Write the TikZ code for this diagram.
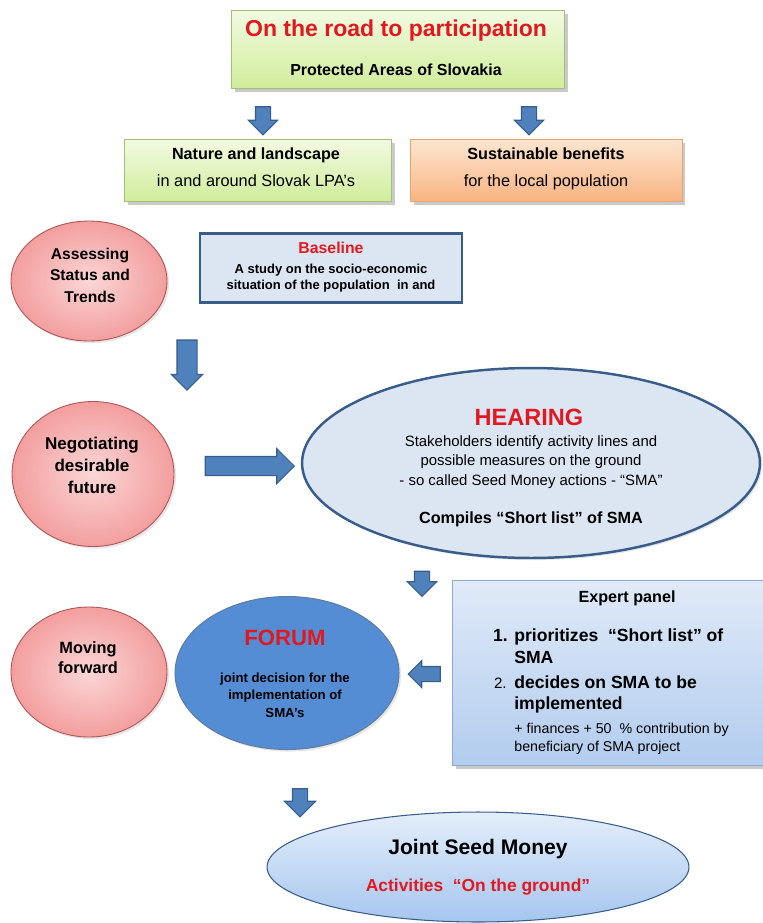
\documentclass[tikz,border=0pt]{standalone}
\usepackage{fontspec}
\setmainfont{Liberation Sans}
\usetikzlibrary{shapes.geometric,shapes.arrows,shadows}

\definecolor{redtxt}{RGB}{226,24,32}
\definecolor{arrowblue}{RGB}{79,129,189}
\definecolor{arrowline}{RGB}{56,93,138}
\definecolor{greentop}{RGB}{242,250,226}
\definecolor{greenbot}{RGB}{208,237,155}
\definecolor{greenline}{RGB}{165,190,125}
\definecolor{orangetop}{RGB}{252,230,208}
\definecolor{orangebot}{RGB}{248,180,130}
\definecolor{orangeline}{RGB}{228,165,115}
\definecolor{pinkin}{RGB}{251,214,214}
\definecolor{pinkout}{RGB}{243,158,158}
\definecolor{pinkline}{RGB}{175,85,85}
\definecolor{paleblue}{RGB}{220,230,242}
\definecolor{darkblue}{RGB}{56,93,138}
\definecolor{forumblue}{RGB}{84,141,212}
\definecolor{paneltop}{RGB}{224,234,248}
\definecolor{panelbot}{RGB}{178,204,238}
\definecolor{panelline}{RGB}{140,168,205}
\definecolor{seedtop}{RGB}{228,238,251}
\definecolor{seedbot}{RGB}{166,198,238}

\newcommand{\setfs}[2]{\fontsize{#1}{#2}\selectfont}

\tikzset{
  softshadow/.style={drop shadow={shadow xshift=2pt, shadow yshift=-2pt, opacity=0.35, fill=black!60}},
  faintshadow/.style={drop shadow={shadow xshift=1.2pt, shadow yshift=-1.2pt, opacity=0.2, fill=black!50}},
  greenbox/.style={rectangle, draw=greenline, top color=greentop, bottom color=greenbot, softshadow, inner sep=0pt},
  orangebox/.style={rectangle, draw=orangeline, top color=orangetop, bottom color=orangebot, softshadow, inner sep=0pt},
  pinkdisc/.style={ellipse, draw=pinkline, line width=0.5pt, inner color=pinkin, outer color=pinkout, faintshadow, inner sep=0pt},
  bigarrow/.style={single arrow, draw=arrowline, fill=arrowblue, line width=0.6pt, inner sep=0pt, outer sep=0pt, minimum width=0pt, text depth=0pt},
  txt/.style={inner sep=0pt, anchor=base},
  multi/.style={inner sep=0pt, align=center}
}

\begin{document}
\begin{tikzpicture}[x=0.02cm, y=-0.02cm]
\useasboundingbox (0,0) rectangle (762,923);

% title and the two aims
\node[greenbox, minimum width=6.66cm, minimum height=1.56cm] (title) at (398,49) {};
\node[txt, text=redtxt, font=\bfseries\setfs{13.1}{15}] (titleA) at (396,36) {On the road to participation};
\node[txt, font=\bfseries\setfs{9.1}{11}] (titleB) at (396,75) {Protected Areas of Slovakia};

\node[bigarrow, rotate=-90, text height=0.28cm, single arrow head extend=0.14cm, minimum height=0.56cm] (arrNat) at (263,117) {};
\node[bigarrow, rotate=-90, text height=0.28cm, single arrow head extend=0.14cm, minimum height=0.56cm] (arrSus) at (529,117) {};

\node[greenbox, minimum width=5.34cm, minimum height=1.24cm] (nature) at (258,170) {};
\node[txt, font=\bfseries\setfs{9.2}{11}] (natureA) at (256,159) {Nature and landscape};
\node[txt, font=\setfs{9.3}{11}] (natureB) at (256,186) {in and around Slovak LPA’s};

\node[orangebox, minimum width=5.44cm, minimum height=1.24cm] (benefit) at (546,170) {};
\node[txt, font=\bfseries\setfs{9.2}{11}] (benefitA) at (546,159) {Sustainable benefits};
\node[txt, font=\setfs{9.3}{11}] (benefitB) at (546,186) {for the local population};

% assessing
\node[pinkdisc, minimum width=3.12cm, minimum height=2.4cm] (assess) at (89,281) {};
\node[multi, font=\bfseries\setfs{8.9}{12.2}] (assessT) at (90,275) {Assessing\\Status and\\Trends};

\node[rectangle, draw=darkblue, line width=1.6pt, fill=paleblue, minimum width=5.24cm, minimum height=1.38cm] (base) at (331,268) {};
\node[txt, text=redtxt, font=\bfseries\setfs{9}{11}] (baseA) at (331,253) {Baseline};
\node[multi, font=\bfseries\setfs{7.4}{9.1}] (baseB) at (331,278) {A study on the socio-economic\\situation of the population\ \ in and};

\node[bigarrow, rotate=-90, text height=0.38cm, single arrow head extend=0.11cm, minimum height=1.0cm] (arrNeg) at (187,360) {};

% negotiating
\node[pinkdisc, minimum width=3.24cm, minimum height=2.9cm] (negot) at (93,474) {};
\node[multi, font=\bfseries\setfs{9.7}{12.5}] (negotT) at (92,465) {Negotiating\\desirable\\future};

\node[bigarrow, text height=0.36cm, single arrow head extend=0.16cm, minimum height=1.78cm] (arrHear) at (245,466) {};

\node[ellipse, draw=darkblue, line width=1.4pt, fill=paleblue, faintshadow, inner sep=0pt, minimum width=9.16cm, minimum height=3.8cm] (hearing) at (531,463) {};
\node[txt, text=redtxt, font=\bfseries\setfs{13.4}{15}] (hearA) at (529,425) {HEARING};
\node[multi, font=\setfs{8.5}{10.9}] (hearB) at (531,462) {Stakeholders identify activity lines and\\possible measures on the ground\\- so called Seed Money actions - “SMA”};
\node[txt, font=\bfseries\setfs{9.2}{11}] (hearC) at (531,523) {Compiles “Short list” of SMA};

\node[bigarrow, rotate=-90, text height=0.28cm, single arrow head extend=0.14cm, minimum height=0.5cm] (arrPanel) at (422,580) {};

% expert panel
\node[rectangle, draw=panelline, top color=paneltop, bottom color=panelbot, softshadow, inner sep=0pt, minimum width=6.36cm, minimum height=3.7cm] (panel) at (611,673) {};
\node[txt, font=\bfseries\setfs{9.2}{11}] (panelA) at (627,602) {Expert panel};
\node[txt, anchor=base east, font=\bfseries\setfs{10}{12}] (panelN1) at (508,641) {1.};
\node[txt, anchor=base west, font=\bfseries\setfs{10}{12}] (panelB) at (514,641) {prioritizes\ \ “Short list”\ of};
\node[txt, anchor=base west, font=\bfseries\setfs{10}{12}] (panelC) at (514,663) {SMA};
\node[txt, anchor=base east, font=\setfs{8.6}{12}] (panelN2) at (507,688) {2.};
\node[txt, anchor=base west, font=\bfseries\setfs{10}{12}] (panelD) at (514,688) {decides on SMA to be};
\node[txt, anchor=base west, font=\bfseries\setfs{10}{12}] (panelE) at (514,709) {implemented};
\node[txt, anchor=base west, font=\setfs{8.1}{10}] (panelF) at (514,733) {+ finances + 50\ \ \% contribution by};
\node[txt, anchor=base west, font=\setfs{8.1}{10}] (panelG) at (514,751) {beneficiary of SMA project};

\node[bigarrow, rotate=180, text height=0.28cm, single arrow head extend=0.12cm, minimum height=0.64cm] (arrForum) at (428,674) {};

% forum
\node[ellipse, draw=darkblue!80, line width=0.6pt, fill=forumblue, faintshadow, inner sep=0pt, minimum width=4.48cm, minimum height=3.06cm] (forum) at (287,673) {};
\node[txt, text=redtxt, font=\bfseries\setfs{12.6}{15}] (forumA) at (285,645) {FORUM};
\node[multi, font=\bfseries\setfs{7.5}{9.9}] (forumB) at (285,695) {joint decision for the\\implementation of\\SMA’s};

\node[pinkdisc, minimum width=3.12cm, minimum height=2.6cm] (moving) at (89,672) {};
\node[multi, font=\bfseries\setfs{9.3}{11.3}] (movingT) at (88,658) {Moving\\forward};

\node[bigarrow, rotate=-90, text height=0.28cm, single arrow head extend=0.16cm, minimum height=0.56cm] (arrSeed) at (300,799) {};

% seed money
\node[ellipse, draw=darkblue, line width=0.6pt, top color=seedtop, bottom color=seedbot, inner sep=0pt, minimum width=8.44cm, minimum height=2.2cm] (seed) at (478,867) {};
\node[txt, font=\bfseries\setfs{12}{14}] (seedA) at (478,854) {Joint Seed Money};
\node[txt, text=redtxt, font=\bfseries\setfs{9.9}{12}] (seedB) at (478,891) {Activities\ \ “On the ground”};
\end{tikzpicture}
\end{document}
